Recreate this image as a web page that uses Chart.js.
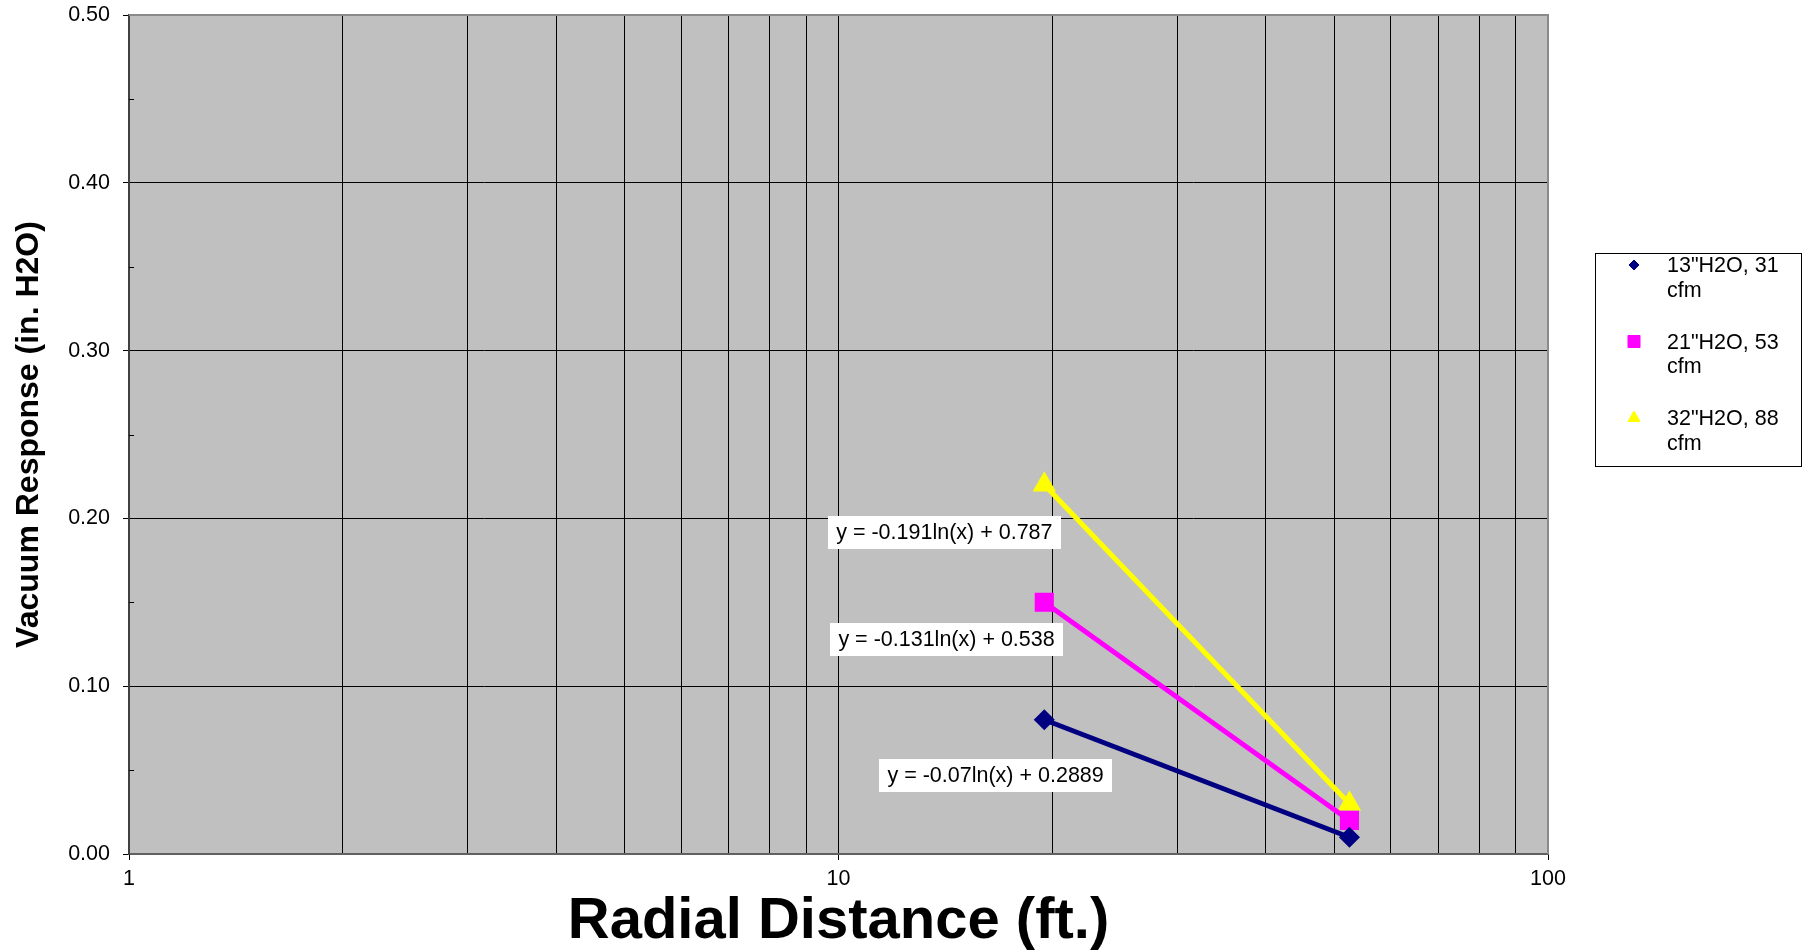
<!DOCTYPE html>
<html>
<head>
<meta charset="utf-8">
<title>Vacuum Response vs Radial Distance</title>
<script src="https://cdn.jsdelivr.net/npm/chart.js@4/dist/chart.umd.min.js"></script>
<style>
  html, body { margin: 0; padding: 0; background: #ffffff; }
  #wrap { position: relative; width: 1803px; height: 952px; }
</style>
</head>
<body>
<div id="wrap"><canvas id="vacuumChart"></canvas></div>
<script>
// Data
const distances = [19.5, 52.5];
const vac13 = [0.08, 0.01];
const vac21 = [0.15, 0.02];
const vac32 = [0.22, 0.03];
const seriesNames = ['13"H2O, 31 cfm', '21"H2O, 53 cfm', '32"H2O, 88 cfm'];
const equations = [
  "y = -0.07ln(x) + 0.2889",
  "y = -0.131ln(x) + 0.538",
  "y = -0.191ln(x) + 0.787",
];
const xTickLabels = [1, 10, 100];
const xGridSteps = [1, 2, 3, 4, 5, 6, 7, 8, 9];
const yTickLabels = ["0.00", "0.10", "0.20", "0.30", "0.40", "0.50"];
const yMinorTicks = [0.05, 0.15, 0.25, 0.35, 0.45];

const FONT = "'Liberation Sans', Arial, sans-serif";

// where each equation box sits (data coordinates of its centre)
const eqAnchors = [
  { x: 16.65, y: 0.0468 },
  { x: 14.2, y: 0.1278 },
  { x: 14.1, y: 0.1916 },
];

function pairs(ys) {
  return distances.map(function (d, i) { return { x: d, y: ys[i] }; });
}

function isDecade(v) {
  return xTickLabels.some(function (t) { return Math.abs(t - v) < 1e-6; });
}

function drawMarker(ctx, style, r, x, y, color) {
  if (Chart.helpers && Chart.helpers.drawPoint) {
    ctx.fillStyle = color;
    ctx.strokeStyle = color;
    ctx.lineWidth = 1;
    Chart.helpers.drawPoint(ctx, { pointStyle: style, radius: r, borderWidth: 1 }, x, y);
    return;
  }
  ctx.fillStyle = color;
  ctx.beginPath();
  if (style === "rectRot") {
    ctx.moveTo(x, y - r); ctx.lineTo(x + r, y); ctx.lineTo(x, y + r); ctx.lineTo(x - r, y);
  } else if (style === "rect") {
    const s = r * Math.SQRT1_2;
    ctx.rect(x - s, y - s, 2 * s, 2 * s);
  } else {
    ctx.moveTo(x, y - r); ctx.lineTo(x + r * 0.866, y + r / 2); ctx.lineTo(x - r * 0.866, y + r / 2);
  }
  ctx.closePath();
  ctx.fill();
}

const sheetPlugin = {
  id: "sheet",
  beforeDraw(chart) {
    const { ctx, chartArea: a } = chart;
    ctx.save();
    ctx.fillStyle = "#c0c0c0";
    ctx.fillRect(a.left, a.top, a.right - a.left, a.bottom - a.top);
    ctx.restore();
  },
  beforeDatasetsDraw(chart) {
    const { ctx, chartArea: a } = chart;
    const y = chart.scales.y;
    ctx.save();
    // frame round the plot
    ctx.strokeStyle = "#8a8a8a";
    ctx.lineWidth = 2;
    ctx.beginPath();
    ctx.moveTo(a.left, a.top);
    ctx.lineTo(a.right, a.top);
    ctx.lineTo(a.right, a.bottom);
    ctx.stroke();
    // small inside ticks on the y axis
    ctx.strokeStyle = "#000";
    ctx.lineWidth = 1;
    yMinorTicks.forEach(function (v) {
      const py = Math.round(y.getPixelForValue(v)) + 0.5;
      ctx.beginPath();
      ctx.moveTo(a.left, py);
      ctx.lineTo(a.left + 5, py);
      ctx.stroke();
    });
    ctx.restore();
  },
  afterDatasetsDraw(chart) {
    const { ctx } = chart;
    const xs = chart.scales.x, ys = chart.scales.y;
    ctx.save();

    // trendline equations
    ctx.font = "21.5px " + FONT;
    ctx.textAlign = "center";
    ctx.textBaseline = "middle";
    equations.forEach(function (txt, i) {
      const cx = xs.getPixelForValue(eqAnchors[i].x);
      const cy = ys.getPixelForValue(eqAnchors[i].y);
      const w = ctx.measureText(txt).width + 17;
      const h = 33;
      ctx.fillStyle = "#ffffff";
      ctx.fillRect(Math.round(cx - w / 2), Math.round(cy - h / 2), Math.round(w), h);
      ctx.fillStyle = "#000000";
      ctx.fillText(txt, cx, cy + 1);
    });

    // legend box
    const lx = 1595, ly = 253, lw = 206, lh = 213;
    ctx.fillStyle = "#ffffff";
    ctx.fillRect(lx, ly, lw, lh);
    ctx.strokeStyle = "#000000";
    ctx.lineWidth = 1;
    ctx.strokeRect(lx + 0.5, ly + 0.5, lw, lh);

    ctx.font = "21.5px " + FONT;
    ctx.textAlign = "left";
    ctx.textBaseline = "alphabetic";
    chart.data.datasets.forEach(function (ds, i) {
      const base = 272 + i * 76.5;
      const parts = ds.label.split(" cfm");
      drawMarker(ctx, ds.pointStyle, ds.legendRadius, 1634, base - 7, ds.pointBackgroundColor);
      ctx.fillStyle = "#000000";
      ctx.fillText(parts[0], 1667, base);
      ctx.fillText("cfm", 1667, base + 24.8);
    });
    ctx.restore();
  },
};

const ctx = document.getElementById("vacuumChart").getContext("2d");

new Chart(ctx, {
  type: "scatter",
  data: {
    datasets: [
      {
        label: seriesNames[0],
        data: pairs(vac13),
        showLine: true,
        borderColor: "#000080",
        backgroundColor: "#000080",
        pointBackgroundColor: "#000080",
        pointBorderColor: "#000080",
        borderWidth: 5,
        pointStyle: "rectRot",
        pointRadius: 7,
        legendRadius: 5,
      },
      {
        label: seriesNames[1],
        data: pairs(vac21),
        showLine: true,
        borderColor: "#ff00ff",
        backgroundColor: "#ff00ff",
        pointBackgroundColor: "#ff00ff",
        pointBorderColor: "#ff00ff",
        borderWidth: 5,
        pointStyle: "rect",
        pointRadius: 10,
        legendRadius: 8.5,
      },
      {
        label: seriesNames[2],
        data: pairs(vac32),
        showLine: true,
        borderColor: "#ffff00",
        backgroundColor: "#ffff00",
        pointBackgroundColor: "#ffff00",
        pointBorderColor: "#ffff00",
        borderWidth: 5,
        pointStyle: "triangle",
        pointRadius: 8.5,
        legendRadius: 7,
      },
    ],
  },
  options: {
    responsive: true,
    maintainAspectRatio: false,
    animation: false,
    layout: {
      padding: { top: 15, right: 255, bottom: 0, left: 0 },
    },
    plugins: {
      legend: { display: false },
      tooltip: { enabled: false },
    },
    scales: {
      x: {
        type: "logarithmic",
        min: 1,
        max: 100,
        afterBuildTicks: function (scale) {
          const ticks = [];
          xTickLabels.slice(0, -1).forEach(function (dec) {
            xGridSteps.forEach(function (s) {
              ticks.push({ value: dec * s, major: s === 1 });
            });
          });
          ticks.push({ value: xTickLabels[xTickLabels.length - 1], major: true });
          scale.ticks = ticks;
        },
        afterFit: function (scale) {
          scale.height = 98;
          scale.paddingLeft = 0;
          scale.paddingRight = 0;
        },
        grid: {
          color: "#000000",
          lineWidth: 1,
          tickLength: 6,
          tickColor: function (c) {
            const v = c.tick ? c.tick.value : null;
            return isDecade(v) ? "#000000" : "rgba(0,0,0,0)";
          },
        },
        border: { color: "#606060", width: 2 },
        ticks: {
          autoSkip: false,
          maxRotation: 0,
          padding: 6,
          color: "#000000",
          font: { family: FONT, size: 21.5 },
          callback: function (value) {
            return isDecade(value) ? String(Math.round(value)) : "";
          },
        },
        title: {
          display: true,
          text: "Radial Distance (ft.)",
          color: "#000000",
          font: { family: FONT, size: 58, weight: "bold", lineHeight: 1 },
          padding: { top: 0, bottom: 1 },
        },
      },
      y: {
        min: 0,
        max: 0.5,
        afterFit: function (scale) {
          scale.width = 129;
          scale.paddingTop = 0;
          scale.paddingBottom = 0;
        },
        grid: {
          color: "#000000",
          lineWidth: 1,
          tickLength: 6,
          tickColor: "#000000",
        },
        border: { color: "#404040", width: 2 },
        ticks: {
          stepSize: 0.1,
          padding: 13,
          color: "#000000",
          font: { family: FONT, size: 21.5 },
          callback: function (value, index) {
            return yTickLabels[index] !== undefined ? yTickLabels[index] : value.toFixed(2);
          },
        },
        title: {
          display: true,
          text: "Vacuum Response (in. H2O)",
          color: "#000000",
          font: { family: FONT, size: 32, weight: "bold" },
          padding: { top: 10, bottom: 0 },
        },
      },
    },
  },
  plugins: [sheetPlugin],
});
</script>
</body>
</html>
